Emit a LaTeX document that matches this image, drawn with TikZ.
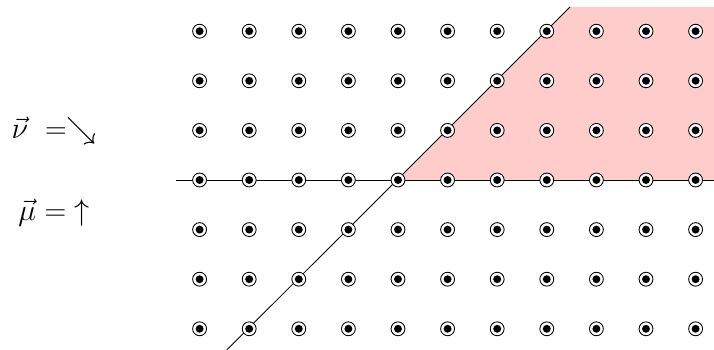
\documentclass[tikz,border=0pt]{standalone}
\usepackage{amsmath}
\usetikzlibrary{positioning}
\tikzset{
  punto/.style={circle, draw, fill=white, line width=0.5pt, minimum size=0.28cm, inner sep=0pt},
  centro/.style={circle, fill=black, minimum size=0.16cm, inner sep=0pt},
  recta/.style={line width=0.5pt},
  etiqueta/.style={font=\fontsize{16.5}{20}\selectfont},
}

\begin{document}
\begin{tikzpicture}
          \useasboundingbox (-8.024,-3.427) rectangle (6.371,3.629);
          \coordinate (origen) at (0,0);
          \coordinate (izq) at (-4.48,0);
          \coordinate (der) at (6.371,0);
          \coordinate (abajo) at (-3.45,-3.427);
          \coordinate (arriba) at (3.47,3.49);
          \coordinate (esquina) at (6.371,3.49);
          \fill[red!20] (origen) -- (arriba) -- (esquina) -- (der) -- cycle;
          \draw[recta] (izq) -- (der);
          \draw[recta] (abajo) -- (arriba);
          \foreach \i in {-4,...,6} {
            \foreach \j in {-3,...,3} {
              \node[punto] (p\i\j) at (\i,\j) {};
              \node[centro] at (p\i\j) {};
            }
          }
          \node[etiqueta] (nu) at (-6.93,0.99) {$\vec{\nu}\ =\searrow$};
          \node[etiqueta] (mu) at (-6.93,-0.66) {$\vec{\mu} =\ \uparrow$};
        \end{tikzpicture}
\end{document}
